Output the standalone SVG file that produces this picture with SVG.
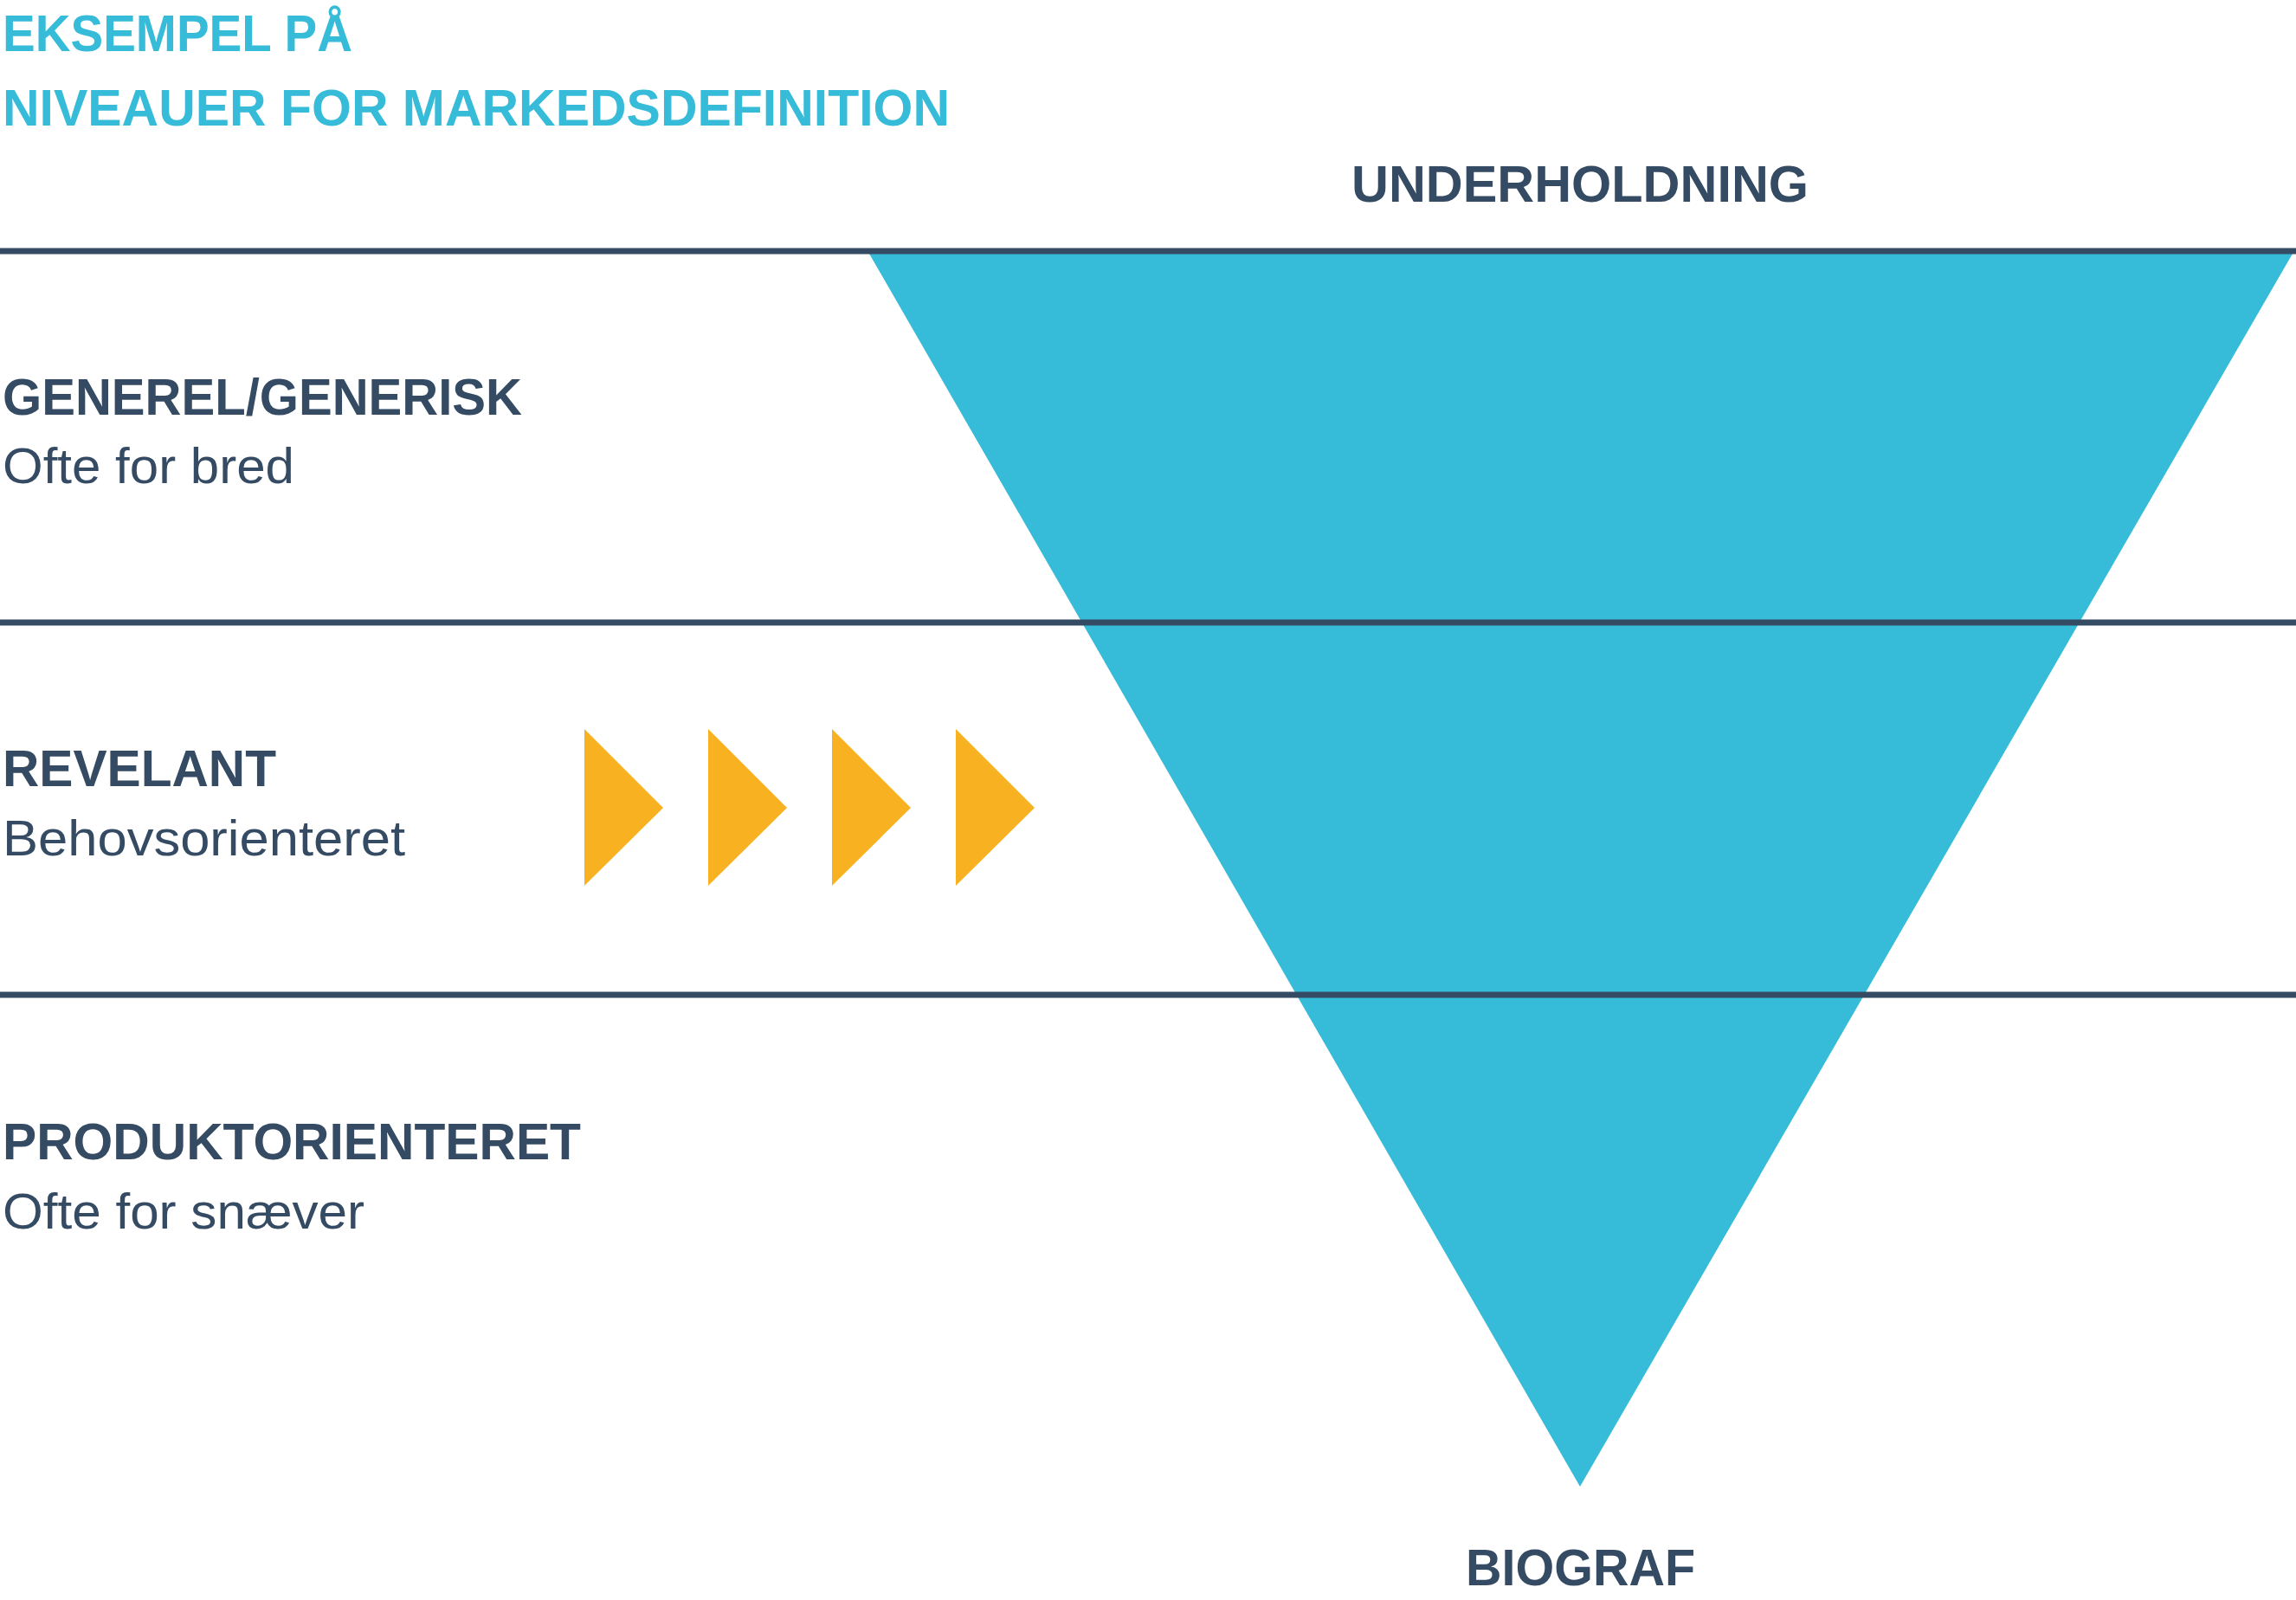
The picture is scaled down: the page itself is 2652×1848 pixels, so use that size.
<svg xmlns="http://www.w3.org/2000/svg" width="2652" height="1848" viewBox="0 0 2652 1848">
<style>
.b{font-family:"Liberation Sans",Arial,sans-serif;font-weight:bold;font-size:60px;fill:#344b63}
.r{font-family:"Liberation Sans",Arial,sans-serif;font-size:57px;fill:#344b63}
.t{fill:#36bbd8}
.line{stroke:#344b63;stroke-width:7}
.y{fill:#f8b120}
</style>
<rect width="2652" height="1848" fill="#fff"/>
<g id="funnel"><polygon points="1004,293 2648,293 1825,1717" fill="#36bbd8"/></g>
<g id="connectors">
<line class="line" x1="0" y1="290" x2="2652" y2="290"/>
<line class="line" x1="0" y1="719" x2="2652" y2="719"/>
<line class="line" x1="0" y1="1149" x2="2652" y2="1149"/>
</g>
<g id="title">
<text class="b t" x="3" y="59" textLength="404" lengthAdjust="spacingAndGlyphs">EKSEMPEL PÅ</text>
<text class="b t" x="3" y="145" textLength="1094" lengthAdjust="spacingAndGlyphs">NIVEAUER FOR MARKEDSDEFINITION</text>
</g>
<g id="top"><text class="b" x="1561" y="233" textLength="528" lengthAdjust="spacingAndGlyphs">UNDERHOLDNING</text></g>
<g id="generel">
<text class="b" x="3" y="479" textLength="600" lengthAdjust="spacingAndGlyphs">GENEREL/GENERISK</text>
<text class="r" x="3" y="558" textLength="337" lengthAdjust="spacingAndGlyphs">Ofte for bred</text>
</g>
<g id="relevant">
<text class="b" x="3" y="908" textLength="316" lengthAdjust="spacingAndGlyphs">REVELANT</text>
<text class="r" x="3" y="988" textLength="465" lengthAdjust="spacingAndGlyphs">Behovsorienteret</text>
</g>
<g id="produkt">
<text class="b" x="3" y="1339" textLength="668" lengthAdjust="spacingAndGlyphs">PRODUKTORIENTERET</text>
<text class="r" x="3" y="1419" textLength="418" lengthAdjust="spacingAndGlyphs">Ofte for snæver</text>
</g>
<g id="bottom"><text class="b" x="1693" y="1831" textLength="265" lengthAdjust="spacingAndGlyphs">BIOGRAF</text></g>
<g id="arrows">
<polygon class="y" points="675,842 766,933 675,1023"/>
<polygon class="y" points="818,842 909,933 818,1023"/>
<polygon class="y" points="961,842 1052,933 961,1023"/>
<polygon class="y" points="1104,842 1195,933 1104,1023"/>
</g>
</svg>
